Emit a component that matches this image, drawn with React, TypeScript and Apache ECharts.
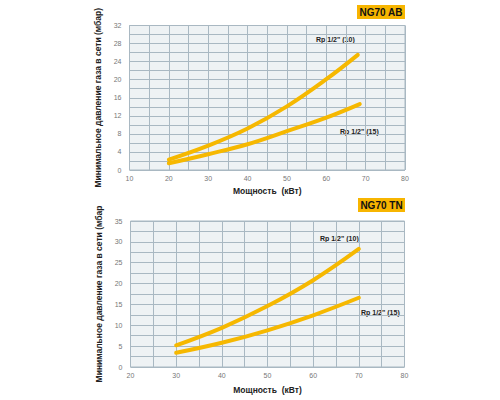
import React, { useEffect, useRef } from "react";
import * as echarts from "echarts";

const xTop = [20, 30, 40, 50, 60, 68];
const topRp10 = [2.3, 5.4, 9.2, 14.1, 20.1, 25.5];
const xTop15 = [20, 30, 40, 50, 60, 68.5];
const topRp15 = [1.5, 3.5, 5.7, 8.6, 11.6, 14.6];

const xBottom = [30, 40, 50, 60, 70];
const bottomRp10 = [5.2, 9.4, 14.6, 20.8, 28.3];
const bottomRp15 = [3.4, 5.8, 8.8, 12.4, 16.6];

const yName = "Минимальное давление газа в сети (мбар)";
const yNameBottom = "Минимальное давление газа в сети (мбар";
const xName = "Мощность  (кВт)";

const LINE = "#f6b800";
const GRIDLINE = "#a9b8c2";
const BG = "#eef2f4";
const LABEL = "#777";
const FONT = "Arial, Liberation Sans, sans-serif";

function pairs(xs: number[], ys: number[]) {
  return xs.map((x, i) => [x, ys[i]]);
}

export default function App() {
  const ref = useRef<HTMLDivElement>(null);
  useEffect(() => {
    if (!ref.current) return;
    const chart = echarts.init(ref.current, undefined, { renderer: "svg" });
    const axisCommon = {
      axisTick: { show: false },
      axisLine: { show: false },
      splitLine: { show: true, lineStyle: { color: GRIDLINE, width: 1 } },
    };
    const labelStyle = { color: LABEL, fontSize: 7, fontFamily: FONT };
    const nameStyle = { color: "#222", fontSize: 8.5, fontWeight: "bold" as const, fontFamily: FONT };
    const lineSeries = (xi: number, data: number[][]) => ({
      type: "line",
      xAxisIndex: xi,
      yAxisIndex: xi,
      data,
      smooth: 0.4,
      showSymbol: false,
      lineStyle: { color: LINE, width: 4, cap: "round" },
    });
    const rpStyle = (text: string) => ({
      text,
      fill: "#222",
      font: `bold 7px ${FONT}`,
      verticalAlign: "middle",
    });
    chart.setOption({
      animation: false,
      grid: [
        { left: 129.5, top: 25.5, width: 275.5, height: 144.5, show: true, backgroundColor: BG, borderColor: GRIDLINE, borderWidth: 1 },
        { left: 130.5, top: 221, width: 274, height: 146, show: true, backgroundColor: BG, borderColor: GRIDLINE, borderWidth: 1 },
      ],
      xAxis: [
        {
          gridIndex: 0, type: "value", min: 10, max: 80, interval: 5, ...axisCommon,
          axisLabel: { ...labelStyle, margin: 5, formatter: (v: number) => (v % 10 === 0 ? String(v) : "") },
          name: xName, nameLocation: "middle", nameGap: 16, nameTextStyle: nameStyle,
        },
        {
          gridIndex: 1, type: "value", min: 20, max: 80, interval: 5, ...axisCommon,
          axisLabel: { ...labelStyle, margin: 5, formatter: (v: number) => (v % 10 === 0 ? String(v) : "") },
          name: xName, nameLocation: "middle", nameGap: 18, nameTextStyle: nameStyle,
        },
      ],
      yAxis: [
        {
          gridIndex: 0, type: "value", min: 0, max: 32, interval: 2, ...axisCommon,
          axisLabel: { ...labelStyle, margin: 8, formatter: (v: number) => (v % 4 === 0 ? String(v) : "") },
          name: yName, nameLocation: "middle", nameGap: 23, nameTextStyle: nameStyle,
        },
        {
          gridIndex: 1, type: "value", min: 0, max: 35, interval: 2.5, ...axisCommon,
          axisLabel: { ...labelStyle, margin: 8, formatter: (v: number) => (v % 5 === 0 ? String(v) : "") },
          name: yNameBottom, nameLocation: "middle", nameGap: 25, nameTextStyle: nameStyle,
        },
      ],
      series: [
        lineSeries(0, pairs(xTop, topRp10)),
        lineSeries(0, pairs(xTop15, topRp15)),
        lineSeries(1, pairs(xBottom, bottomRp10)),
        lineSeries(1, pairs(xBottom, bottomRp15)),
      ],
      graphic: [
        { type: "rect", shape: { x: 357, y: 5, width: 48, height: 14 }, style: { fill: "#f7b500" } },
        { type: "text", x: 381, y: 12, style: { text: "NG70 AB", fill: "#111", font: `bold 10px ${FONT}`, align: "center", verticalAlign: "middle" } },
        { type: "rect", shape: { x: 358, y: 198, width: 47, height: 14 }, style: { fill: "#f7b500" } },
        { type: "text", x: 381.5, y: 205, style: { text: "NG70 TN", fill: "#111", font: `bold 10px ${FONT}`, align: "center", verticalAlign: "middle" } },
        { type: "text", x: 316, y: 39, style: rpStyle('Rp 1/2" (10)') },
        { type: "text", x: 340, y: 131, style: rpStyle('Rp 1/2" (15)') },
        { type: "text", x: 320, y: 238, style: rpStyle('Rp 1/2" (10)') },
        { type: "text", x: 361, y: 312, style: rpStyle('Rp 1/2" (15)') },
      ],
    });
    return () => chart.dispose();
  }, []);
  return (
    <div
      ref={ref}
      style={{ position: "absolute", left: 0, top: 0, width: 500, height: 400, background: "#fff" }}
    />
  );
}
